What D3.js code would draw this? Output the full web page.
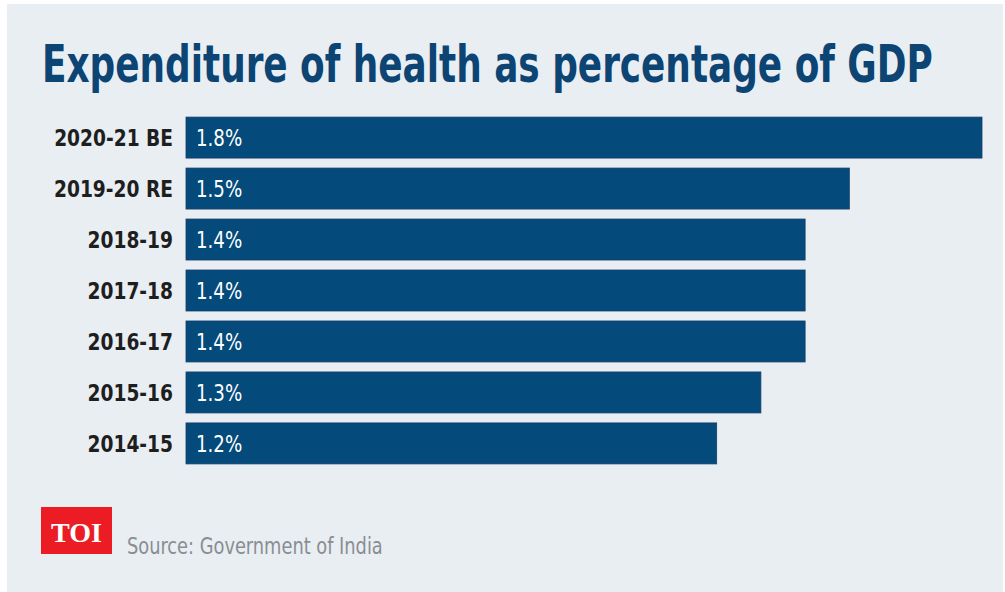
<!DOCTYPE html>
<html>
<head>
<meta charset="utf-8">
<script src="https://cdn.jsdelivr.net/npm/d3@7"></script>
<style>
  html, body { margin: 0; padding: 0; background: #ffffff; }
  svg { display: block; }
</style>
</head>
<body>
<div id="chart"></div>
<script>
///////////////////////////////////////////////
// Data ///////////////////////////////////////
///////////////////////////////////////////////

var years = ["2020-21 BE", "2019-20 RE", "2018-19", "2017-18", "2016-17", "2015-16", "2014-15"];
var values = [1.8, 1.5, 1.4, 1.4, 1.4, 1.3, 1.2];
var valueLabels = ["1.8%", "1.5%", "1.4%", "1.4%", "1.4%", "1.3%", "1.2%"];

var titleText = "Expenditure of health as percentage of GDP";
var sourceText = "Source: Government of India";

///////////////////////////////////////////////
// Graph parameters ///////////////////////////
///////////////////////////////////////////////

var width = 1005, height = 592;
var barColor = "#044a7a";
var condensed = "'Liberation Sans Narrow', 'DejaVu Sans Condensed', 'Roboto', sans-serif";

var svg = d3.select("#chart").append("svg")
    .attr("width", width)
    .attr("height", height);

// squeeze a text horizontally so it spans the given width, anchored at x
function squeeze(sel, x, y, targetWidth, anchor) {
  var len = sel.node().getComputedTextLength();
  var k = Math.min(1, targetWidth / len);
  sel.attr("x", 0).attr("y", 0)
    .style("text-anchor", anchor || "start")
    .attr("transform", "translate(" + x + "," + y + ") scale(" + k + ",1)");
}

// panel
svg.append("rect")
    .attr("x", 7)
    .attr("y", 4)
    .attr("width", width - 9)
    .attr("height", height - 4)
    .style("fill", "#e9eef3");

// title
var title = svg.append("text")
    .style("font-family", condensed)
    .style("font-weight", "bold")
    .style("font-size", "51px")
    .style("fill", "#0c4473")
    .text(titleText);
squeeze(title, 42, 82, 891);

///////////////////////////////////////////////
// Scales /////////////////////////////////////
///////////////////////////////////////////////

var x = d3.scaleLinear()
    .domain([0, 1.8])
    .range([186, 982]);

var y = d3.scaleBand()
    .domain(years)
    .range([112, 469])
    .paddingInner(0.196)
    .paddingOuter(0.1);

///////////////////////////////////////////////
// Bars ///////////////////////////////////////
///////////////////////////////////////////////

var rows = svg.append("g").selectAll("g")
    .data(years)
    .enter().append("g");

rows.append("rect")
    .attr("x", x(0))
    .attr("y", function(d) { return y(d); })
    .attr("width", function(d, i) { return x(values[i]) - x(0); })
    .attr("height", y.bandwidth())
    .style("fill", barColor)
    .style("stroke", "#173c6c")
    .style("stroke-width", 0.8);

// category labels
rows.append("text")
    .attr("dy", "0.36em")
    .style("font-family", condensed)
    .style("font-weight", "bold")
    .style("font-size", "23px")
    .style("fill", "#1e1e1e")
    .text(function(d) { return d; })
    .each(function(d) {
      var t = d3.select(this);
      var len = this.getComputedTextLength();
      squeeze(t, 173, y(d) + y.bandwidth() / 2, len * 0.9, "end");
    });

// value labels
rows.append("text")
    .attr("dy", "0.36em")
    .style("font-family", condensed)
    .style("font-size", "23px")
    .style("fill", "#ffffff")
    .text(function(d, i) { return valueLabels[i]; })
    .each(function(d) {
      var t = d3.select(this);
      var len = this.getComputedTextLength();
      squeeze(t, x(0) + 10, y(d) + y.bandwidth() / 2, len * 0.88);
    });

///////////////////////////////////////////////
// Footer /////////////////////////////////////
///////////////////////////////////////////////

svg.append("rect")
    .attr("x", 41)
    .attr("y", 507)
    .attr("width", 71)
    .attr("height", 47)
    .style("fill", "#ec1c24");

var logo = svg.append("text")
    .style("font-family", "'Liberation Serif', 'DejaVu Serif', serif")
    .style("font-weight", "bold")
    .style("font-size", "28px")
    .style("fill", "#ffffff")
    .text("TOI");
squeeze(logo, 76.5, 542, 56, "middle");

var source = svg.append("text")
    .style("font-family", condensed)
    .style("font-size", "23px")
    .style("fill", "#8a8d92")
    .text(sourceText);
squeeze(source, 127, 554, 256);
</script>
</body>
</html>
